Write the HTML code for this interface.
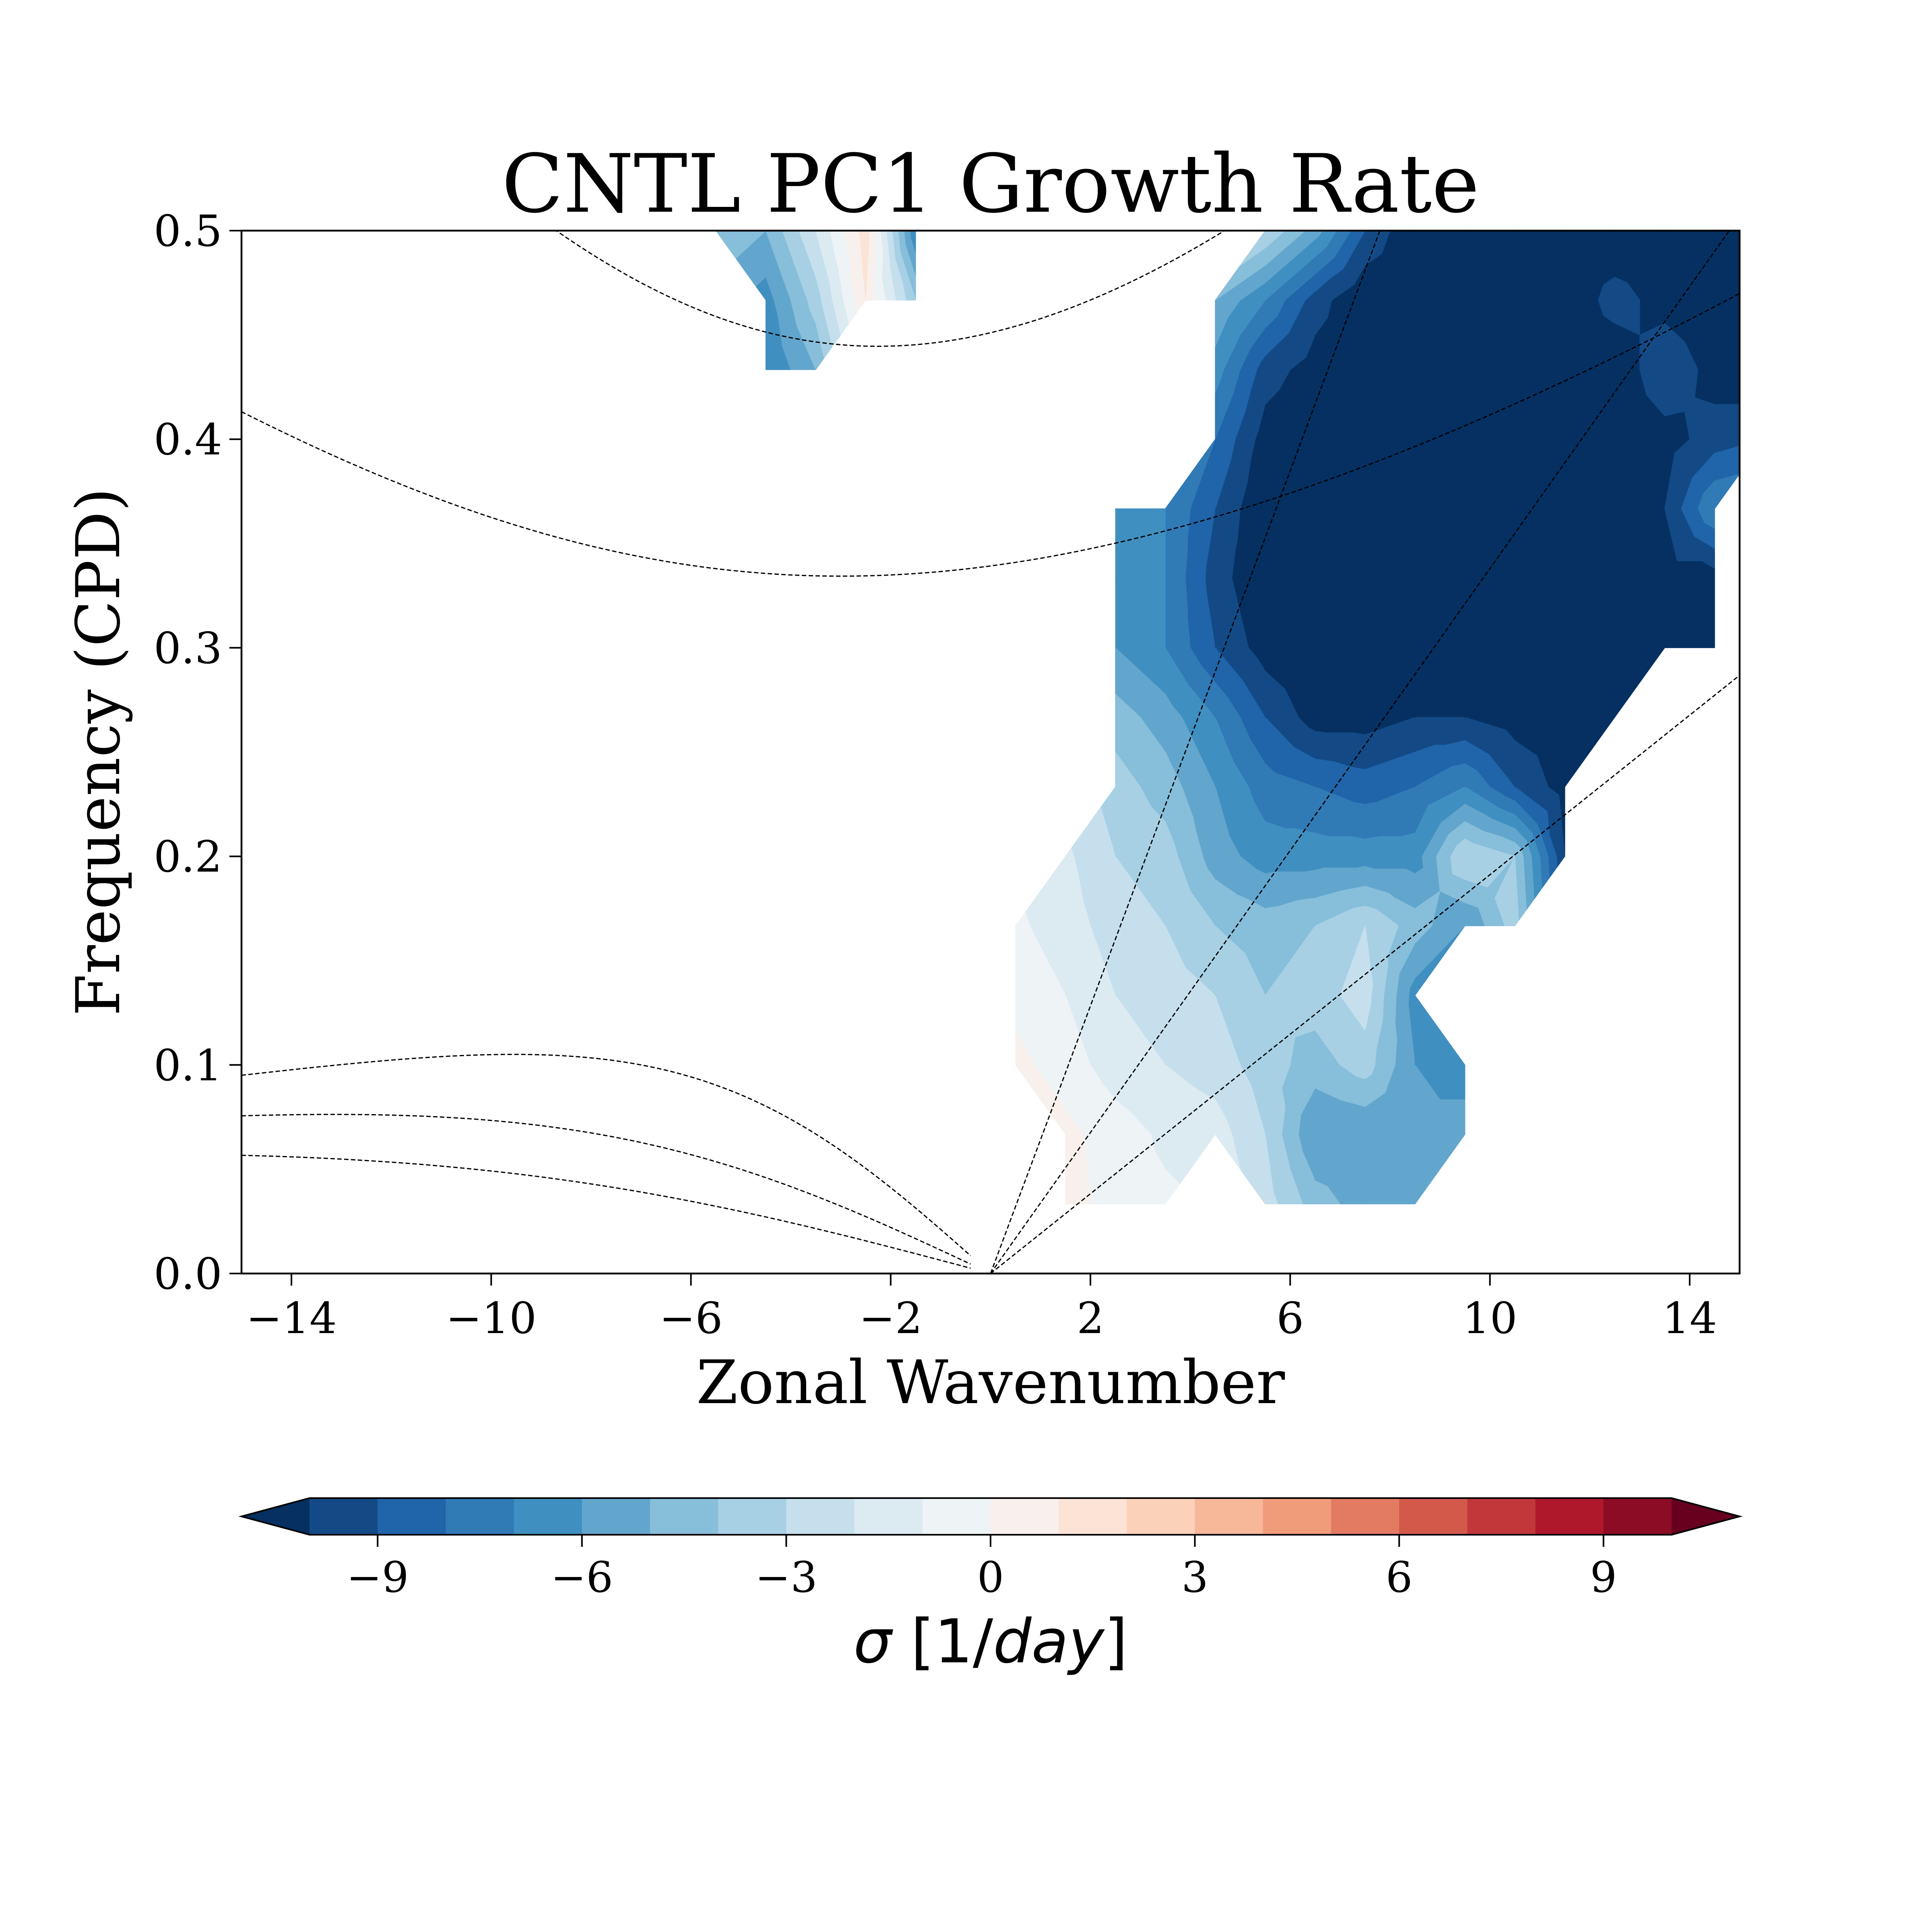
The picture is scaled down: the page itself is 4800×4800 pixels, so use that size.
<!DOCTYPE html>
<html><head><meta charset="utf-8"><style>
html,body{margin:0;padding:0;background:#fff}
svg{display:block}
text{font-family:"DejaVu Serif","Liberation Serif",serif;fill:#000}
</style></head><body>
<svg id="chart" xmlns="http://www.w3.org/2000/svg" width="4800" height="4800" viewBox="0 0 4800 4800">
<rect width="4800" height="4800" fill="#fff"/>
<text x="2461" y="526" font-size="200" text-anchor="middle">CNTL PC1 Growth Rate</text>
<defs><clipPath id="axclip"><rect x="600" y="573" width="3722" height="2591"/></clipPath></defs>
<g id="cells" clip-path="url(#axclip)"></g>
<g id="curves" clip-path="url(#axclip)"></g>
<rect x="600" y="573" width="3722" height="2591" fill="none" stroke="#000" stroke-width="4.5"/>
<g id="xticks"></g>
<g id="yticks"></g>
<text x="2461" y="3486" font-size="149" text-anchor="middle">Zonal Wavenumber</text>
<text x="0" y="0" font-size="150" text-anchor="middle" transform="translate(296,1868) rotate(-90)">Frequency (CPD)</text>
<g id="cbar"></g>
<text x="2461" y="4130" font-size="150" text-anchor="middle" style="font-family:'DejaVu Sans','Liberation Sans',sans-serif"><tspan font-style="italic">σ</tspan> [1/<tspan font-style="italic">day</tspan>]</text>
</svg>
<script>
const gridK = [-5.5,-4.5,-3.5,-2.5,-1.5,-0.5,0.5,1.5,2.5,3.5,4.5,5.5,6.5,7.5,8.5,9.5,10.5,11.5,12.5,13.5,14.5,15.5];
const gridF = [1,2,3,4,5,6,7,8,9,10,11,12,13,14,15].map(j=>j/30);
const n = null;
const sigma = [
 [n,n,n,n,n,n, n,0.5,-0.5,-0.8,n,-2.5,-4.5,-5.5,-5.5,n,n,n,n,n,n,n],
 [n,n,n,n,n,n, n,0.3,-0.5,-1.2,-1.5,-3,-6,-6,-6,-5,n,n,n,n,n,n],
 [n,n,n,n,n,n, 0.3,-0.5,-1.5,-2,-2.5,-3.5,-4.5,-3.5,-6,-7,n,n,n,n,n,n],
 [n,n,n,n,n,n, -0.3,-1,-2,-2.5,-3,-4,-3.5,-2.5,-6.5,n,n,n,n,n,n,n],
 [n,n,n,n,n,n, -0.8,-1.5,-2.5,-3,-4,-4.5,-4,-3,-4.5,-6,-3.5,n,n,n,n,n],
 [n,n,n,n,n,n, n,-1.8,-3,-3.5,-5.5,-6.5,-6.5,-6.5,-6.5,-3,-4,-10,n,n,n,n],
 [n,n,n,n,n,n, n,n,-3.5,-4.5,-6,-7.5,-8,-8.5,-8,-7,-9,-10.5,n,n,n,n],
 [n,n,n,n,n,n, n,n,-4.5,-5.5,-7,-9,-10.5,-10.5,-10,-10,-10.5,-10.5,-10.5,n,n,n],
 [n,n,n,n,n,n, n,n,-6,-7,-9,-10.5,-11,-11,-11,-11,-11,-10,-11,-10.5,-11,n],
 [n,n,n,n,n,n, n,n,-6,-7,-9.5,-11,-11,-11,-11,-11,-11,-11,-11,-10.5,-10.5,n],
 [n,n,n,n,n,n, n,n,-6,-7,-9,-11,-11,-11,-11,-11,-11,-11,-11,-10,-7,n],
 [n,n,n,n,n,n, n,n,n,n,-8,-10.5,-11,-11,-11,-11,-11,-11,-11,-10.5,-9.5,-9],
 [n,-7,-5,n,n,n, n,n,n,n,-6.5,-9.5,-10.5,-11,-11,-11,-11,-11,-11,-9,-10.5,-11],
 [n,-6.5,-3.5,1,-4,n, n,n,n,n,-5,-7,-9.5,-11,-11,-11,-11,-11,-9.5,-10.5,-11,-11],
 [-4,-5,-2,1.5,-7,n, n,n,n,n,n,-3,-5.5,-9,-11,-11,-11,-11,-11,-11,-11,-11]
];
const xTickVals = [-14,-10,-6,-2,2,6,10,14];
const yTickVals = [0,0.1,0.2,0.3,0.4,0.5];
const cbTickVals = [-9,-6,-3,0,3,6,9];
const levels = [-10,-9,-8,-7,-6,-5,-4,-3,-2,-1,0,1,2,3,4,5,6,7,8,9,10];
const kelvinDepths = [8,25,90];
const igDepths = [8,25];
const rossbyDepths = [8,25,90];

const NS='http://www.w3.org/2000/svg';
const AX={l:600,r:4322,t:573,b:3164};
const xS=k=>AX.l+(k+15)/30*(AX.r-AX.l);
const yS=f=>AX.b-f/0.5*(AX.b-AX.t);
function mk(tag,attrs,parent){const e=document.createElementNS(NS,tag);for(const a in attrs)e.setAttribute(a,attrs[a]);parent.appendChild(e);return e;}
const rdbu=['#053061','#2166ac','#4393c3','#92c5de','#d1e5f0','#f7f7f7','#fddbc7','#f4a582','#d6604d','#b2182b','#67001f'];
function hex(c){return [1,3,5].map(i=>parseInt(c.substr(i,2),16));}
function cmap(t){t=Math.max(0,Math.min(1,t));const p=t*10,i=Math.min(9,Math.floor(p)),fr=p-i;const a=hex(rdbu[i]),b=hex(rdbu[i+1]);return 'rgb('+a.map((v,j)=>Math.round(v+(b[j]-v)*fr)).join(',')+')';}
const nl=levels.length-1;
function levColor(i){return cmap((i+0.5)/nl*0.95+0.025);}
function bandColor(b){if(b<0)return cmap(0);if(b>=nl)return cmap(1);return levColor(b);}
function bandOf(v){if(v<levels[0])return -1;if(v>=levels[nl])return nl;return Math.min(nl-1,Math.floor((v-levels[0])/(levels[1]-levels[0])));}

const cells=document.getElementById('cells');
function clip(poly,lev,keepAbove){const out=[];for(let i=0;i<poly.length;i++){const A=poly[i],B=poly[(i+1)%poly.length];
  const ia=keepAbove?A[2]>=lev:A[2]<lev, ib=keepAbove?B[2]>=lev:B[2]<lev;
  if(ia)out.push(A);
  if(ia!==ib){const t=(lev-A[2])/(B[2]-A[2]);out.push([A[0]+t*(B[0]-A[0]),A[1]+t*(B[1]-A[1]),lev]);}}
  return out;}
function fillTri(tri){const vs=tri.map(p=>p[2]);const b0=bandOf(Math.min(...vs)),b1=bandOf(Math.max(...vs));
  for(let b=b0;b<=b1;b++){let poly=tri;
    if(b>=0)poly=clip(poly,levels[b],true);
    if(poly.length>=3&&b<nl)poly=clip(poly,levels[b+1],false);
    if(poly.length<3)continue;
    const pts=poly.map(p=>xS(p[0]).toFixed(1)+','+yS(p[1]).toFixed(1)).join(' ');
    const c=bandColor(b);
    const pg=mk('polygon',{points:pts,fill:c,stroke:c,'stroke-width':1.5,'stroke-linejoin':'round'},cells);
    
    }}
for(let j=0;j<gridF.length-1;j++)for(let i=0;i<gridK.length-1;i++){
  const c=[[i,j],[i+1,j],[i+1,j+1],[i,j+1]].map(([a,b])=>[gridK[a],gridF[b],sigma[b][a]]);
  const valid=c.filter(p=>p[2]!==null);
  if(valid.length===4){const ctr=[(c[0][0]+c[1][0])/2,(c[0][1]+c[3][1])/2,(c[0][2]+c[1][2]+c[2][2]+c[3][2])/4];
    for(let q=0;q<4;q++)fillTri([c[q],c[(q+1)%4],ctr]);}
  else if(valid.length===3)fillTri(valid);
}

const beta=2.29e-11,R=6.371e6,g=9.81;
const toCPD=w=>w*86400/(2*Math.PI);
const curves=document.getElementById('curves');
function drawPath(pts,name){const d=pts.map((p,i)=>(i?'L':'M')+xS(p[0]).toFixed(1)+' '+yS(p[1]).toFixed(1)).join(' ');
  const p=mk('path',{d:d,fill:'none',stroke:'#000','stroke-width':3,'stroke-dasharray':'11 6'},curves);
  }
function cubicRoot(k,c,lo,hi){const kd=k/R;const F=w=>w*w*w-(c*c*kd*kd+3*beta*c)*w-beta*c*c*kd;
  let a=lo,b=hi,fa=F(a);for(let it=0;it<80;it++){const m=(a+b)/2,fm=F(m);if((fm>0)===(fa>0)){a=m;fa=fm;}else b=m;}return (a+b)/2;}
kelvinDepths.forEach(h=>{const c=Math.sqrt(g*h);const pts=[];for(let k=0;k<=15.01;k+=0.5)pts.push([k,toCPD(c*k/R)]);drawPath(pts,'kelvin-curve');});
igDepths.forEach(h=>{const c=Math.sqrt(g*h);const pts=[];for(let k=-15;k<=15.01;k+=0.25){const kd=k/R;const s=Math.sqrt(c*c*kd*kd+3*beta*c);pts.push([k,toCPD(cubicRoot(k,c,s*0.7,s*1.5))]);}drawPath(pts,'inertia-gravity-curve');});
rossbyDepths.forEach(h=>{const c=Math.sqrt(g*h);const pts=[];for(let k=-15;k<=-0.39;k+=0.2){const kd=k/R;const s=Math.sqrt(c*c*kd*kd+3*beta*c);pts.push([k,toCPD(cubicRoot(k,c,1e-12,s*0.5))]);}drawPath(pts,'rossby-curve');});

const xt=document.getElementById('xticks');
xTickVals.forEach(v=>{const x=xS(v);
  const l=mk('line',{x1:x,x2:x,y1:AX.b,y2:AX.b+30,stroke:'#000','stroke-width':4},xt);
  
  const t=mk('text',{x:x,y:3312,'font-size':107,'text-anchor':'middle'},xt);t.textContent=v<0?'\u2212'+(-v):String(v);
  });
const yt=document.getElementById('yticks');
yTickVals.forEach(v=>{const y=yS(v);
  const l=mk('line',{x1:AX.l-30,x2:AX.l,y1:y,y2:y,stroke:'#000','stroke-width':4},yt);
  
  const t=mk('text',{x:552,y:y+38,'font-size':107,'text-anchor':'end'},yt);t.textContent=v.toFixed(1);
  });

const cb=document.getElementById('cbar');
const CB={l:769,r:4153,t:3722,b:3813,tipL:600,tipR:4322};
const cbx=v=>CB.l+(v-levels[0])/(levels[nl]-levels[0])*(CB.r-CB.l);
for(let i=0;i<nl;i++){const x0=cbx(levels[i]),x1=cbx(levels[i+1]);
  const r=mk('rect',{x:x0,y:CB.t,width:x1-x0+1,height:CB.b-CB.t,fill:levColor(i)},cb);
  }
const mid=(CB.t+CB.b)/2;
const tl=mk('polygon',{points:`${CB.l},${CB.t} ${CB.tipL},${mid} ${CB.l},${CB.b}`,fill:cmap(0)},cb);

const tr=mk('polygon',{points:`${CB.r},${CB.t} ${CB.tipR},${mid} ${CB.r},${CB.b}`,fill:cmap(1)},cb);

const ol=mk('polygon',{points:`${CB.l},${CB.t} ${CB.r},${CB.t} ${CB.tipR},${mid} ${CB.r},${CB.b} ${CB.l},${CB.b} ${CB.tipL},${mid}`,fill:'none',stroke:'#000','stroke-width':4},cb);

cbTickVals.forEach(v=>{const x=cbx(v);
  const l=mk('line',{x1:x,x2:x,y1:CB.b,y2:CB.b+30,stroke:'#000','stroke-width':4},cb);
  
  const t=mk('text',{x:x,y:3955,'font-size':105,'text-anchor':'middle'},cb);t.textContent=v<0?'\u2212'+(-v):String(v);
  });
</script>
</body></html>
